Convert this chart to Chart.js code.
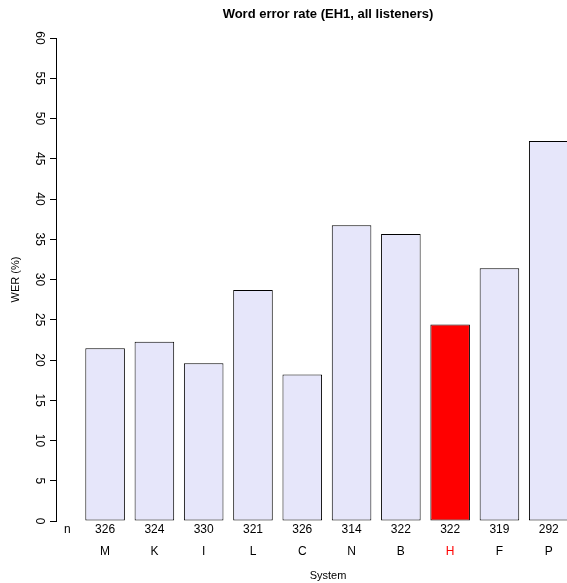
<!DOCTYPE html>
<html>
<head>
<meta charset="utf-8">
<script src="https://cdn.jsdelivr.net/npm/chart.js@4.4.1/dist/chart.umd.min.js"></script>
<style>
html,body{margin:0;padding:0;background:#fff;overflow:hidden;}
#wrap{width:567px;height:583px;position:relative;overflow:hidden;}
canvas{display:block;}
</style>
</head>
<body>
<div id="wrap"><canvas id="c" width="600" height="583"></canvas></div>
<script>
// ---- data ----
const categories = ['M','K','I','L','C','N','B','H','F','P'];
const werValues = [21.45, 22.27, 19.6, 28.7, 18.2, 36.75, 35.65, 24.4, 31.4, 47.2];
const nCounts = [326, 324, 330, 321, 326, 314, 322, 322, 319, 292];
const highlight = 'H';
const yTicks = [0,5,10,15,20,25,30,35,40,45,50,55,60];
const titleText = 'Word error rate (EH1, all listeners)';
const yTitle = 'WER (%)';
const xTitle = 'System';
const nLabel = 'n';

// ---- styling ----
const FONT = '"Liberation Sans", Arial, Helvetica, sans-serif';
const barFill = categories.map(c => c === highlight ? '#FF0000' : '#E6E6FA');
const X_MIN = -0.996, X_MAX = 10.04, N_POS = -0.767;

const ctx = document.getElementById('c').getContext('2d');
new Chart(ctx, {
  type: 'bar',
  data: {
    datasets: [{
      data: categories.map((c, i) => ({x: i, y: werValues[i]})),
      backgroundColor: barFill,
      borderColor: '#000',
      borderWidth: 1,
      borderSkipped: false,
      categoryPercentage: 1.0,
      barPercentage: 0.803,
      xAxisID: 'xcat',
      yAxisID: 'y'
    }]
  },
  options: {
    responsive: false,
    animation: false,
    devicePixelRatio: 1,
    layout: {padding: 0},
    plugins: {
      legend: {display: false},
      tooltip: {enabled: false},
      title: {
        display: true,
        text: titleText,
        fullSize: false,
        color: '#000',
        font: {family: FONT, size: 13, weight: 'bold'},
        padding: {top: 6.7, bottom: 15.7}
      }
    },
    scales: {
      xn: {
        type: 'linear',
        position: 'bottom',
        weight: 1,
        offset: false,
        min: X_MIN, max: X_MAX,
        grid: {display: false, drawTicks: false, offset: false},
        border: {display: false},
        afterBuildTicks: s => { s.ticks = [{value: N_POS}].concat(categories.map((c, i) => ({value: i}))); },
        afterFit: s => { s.height = 16; s.paddingLeft = 0; s.paddingRight = 0; },
        ticks: {
          autoSkip: false, maxRotation: 0, minRotation: 0, padding: 1,
          color: '#000',
          font: {family: FONT, size: 12},
          callback: (v, i) => i === 0 ? nLabel : String(nCounts[i - 1])
        }
      },
      xcat: {
        type: 'linear',
        position: 'bottom',
        weight: 2,
        offset: false,
        min: X_MIN, max: X_MAX,
        grid: {display: false, drawTicks: false, offset: false},
        border: {display: false},
        afterBuildTicks: s => { s.ticks = categories.map((c, i) => ({value: i})); },
        afterFit: s => { s.height = 46; s.paddingLeft = 0; s.paddingRight = 0; },
        ticks: {
          autoSkip: false, maxRotation: 0, minRotation: 0, padding: 7.5,
          font: {family: FONT, size: 12},
          color: c => categories[c.index] === highlight ? '#FF0000' : '#000',
          callback: (v, i) => categories[i]
        },
        title: {
          display: true, text: xTitle, color: '#000',
          font: {family: FONT, size: 11},
          padding: {top: 0, bottom: 0.7}
        }
      },
      y: {
        type: 'linear',
        position: 'left',
        min: 0, max: 60,
        afterBuildTicks: s => { s.ticks = yTicks.map(v => ({value: v})); },
        afterFit: s => { s.width = 56; },
        grid: {display: true, drawOnChartArea: false, drawTicks: true, tickLength: 6, color: '#000', lineWidth: 1},
        border: {display: true, color: '#000', width: 1},
        ticks: {
          minRotation: -90, maxRotation: -90,
          crossAlign: 'center',
          padding: 4,
          color: '#000',
          font: {family: FONT, size: 12},
          callback: v => String(v)
        },
        title: {
          display: true, text: yTitle, color: '#000',
          font: {family: FONT, size: 11},
          padding: {top: 9.4, bottom: 0}
        }
      }
    }
  }
});
</script>
</body>
</html>
